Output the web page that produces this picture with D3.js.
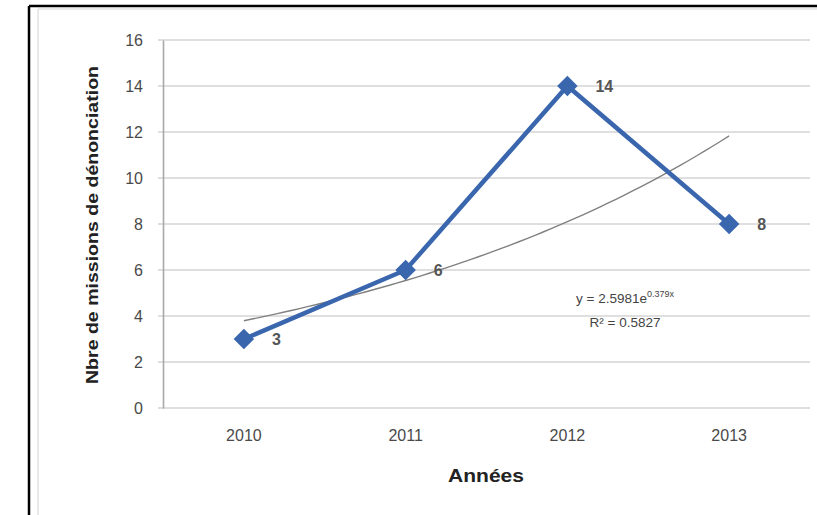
<!DOCTYPE html>
<html>
<head>
<meta charset="utf-8">
<script src="https://cdn.jsdelivr.net/npm/d3@7"></script>
<style>
  body { margin: 0; background: #fff; }
  svg { display: block; font-family: "Liberation Sans", Arial, sans-serif; }
</style>
</head>
<body>
<svg id="canvas" width="817" height="515"></svg>
<script>
let years = ['2010', '2011', '2012', '2013']
let missions = [3, 6, 14, 8]
let yTicks = [0, 2, 4, 6, 8, 10, 12, 14, 16]

let svg = d3.select('#canvas')

let plotLeft = 163, plotRight = 810, plotTop = 40, plotBottom = 408

// outer frame (top + left only, as cropped in the source)
svg.append('line').attr('x1', 29).attr('x2', 817).attr('y1', 6).attr('y2', 6)
   .attr('stroke', '#000').attr('stroke-width', 2.5)
svg.append('line').attr('x1', 29).attr('x2', 29).attr('y1', 6).attr('y2', 515)
   .attr('stroke', '#000').attr('stroke-width', 2.5)
svg.append('line').attr('x1', 38).attr('x2', 817).attr('y1', 9).attr('y2', 9)
   .attr('stroke', '#e2e2e2').attr('stroke-width', 1.5)
svg.append('line').attr('x1', 38).attr('x2', 38).attr('y1', 9).attr('y2', 515)
   .attr('stroke', '#e2e2e2').attr('stroke-width', 1.5)

let xScale = d3.scaleBand().domain(years).range([plotLeft, plotRight])
let yScale = d3.scaleLinear().domain([0, 16]).range([plotBottom, plotTop])

// gridlines
svg.append('g').selectAll('line').data(yTicks).enter().append('line')
   .attr('x1', plotLeft - 5).attr('x2', plotRight)
   .attr('y1', d => yScale(d)).attr('y2', d => yScale(d))
   .attr('stroke', '#d4d4d4').attr('stroke-width', 1.6)

// y axis
let yAxis = d3.axisLeft(yScale).tickValues(yTicks).tickSize(0).tickPadding(20)
let yG = svg.append('g').attr('transform', 'translate(' + plotLeft + ',0)').call(yAxis)
yG.select('.domain').attr('stroke', '#a8a8a8').attr('stroke-width', 1.6)
yG.selectAll('text').attr('fill', '#4a4a4a').style('font-size', '16px')

// x axis labels
let xAxis = d3.axisBottom(xScale).tickSize(0).tickPadding(22)
let xG = svg.append('g').attr('transform', 'translate(0,' + plotBottom + ')').call(xAxis)
xG.select('.domain').remove()
xG.selectAll('text').attr('fill', '#4a4a4a').style('font-size', '16px')

// axis titles
svg.append('text').text('Années')
   .attr('x', 486).attr('y', 482).attr('text-anchor', 'middle')
   .attr('textLength', 76).attr('lengthAdjust', 'spacingAndGlyphs')
   .attr('font-weight', 'bold').attr('font-size', 18).attr('fill', '#222')
svg.append('text').text('Nbre de missions de dénonciation')
   .attr('transform', 'translate(98,225) rotate(-90)').attr('text-anchor', 'middle')
   .attr('textLength', 318).attr('lengthAdjust', 'spacingAndGlyphs')
   .attr('font-weight', 'bold').attr('font-size', 17).attr('fill', '#222')

// exponential trendline fitted to the data
let xs = missions.map((v, i) => i + 1)
let lns = missions.map(v => Math.log(v))
let mx = d3.mean(xs), ml = d3.mean(lns)
let b = d3.sum(xs, (x, i) => (x - mx) * (lns[i] - ml)) / d3.sum(xs, x => (x - mx) * (x - mx))
let a = Math.exp(ml - b * mx)
let rss = d3.sum(xs, (x, i) => Math.pow(lns[i] - (Math.log(a) + b * x), 2))
let tss = d3.sum(lns, l => (l - ml) * (l - ml))
let r2 = 1 - rss / tss

let xPos = (t) => xScale(years[0]) + xScale.bandwidth() / 2 + (t - 1) * xScale.step()
let trend = d3.range(1, 4.01, 0.05).map(t => [xPos(t), yScale(a * Math.exp(b * t))])
svg.append('path').datum(trend)
   .attr('d', d3.line())
   .attr('fill', 'none').attr('stroke', '#808080').attr('stroke-width', 1.4)

// data line
let pts = years.map((y, i) => [xScale(y) + xScale.bandwidth() / 2, yScale(missions[i])])
svg.append('path').datum(pts)
   .attr('d', d3.line())
   .attr('fill', 'none').attr('stroke', '#3a66ae').attr('stroke-width', 4.5)

svg.append('g').selectAll('path').data(pts).enter().append('path')
   .attr('d', d3.symbol().type(d3.symbolSquare).size(210))
   .attr('transform', d => 'translate(' + d[0] + ',' + d[1] + ') rotate(45)')
   .attr('fill', '#3a66ae')

// data labels
svg.append('g').selectAll('text').data(pts).enter().append('text')
   .text((d, i) => missions[i])
   .attr('x', d => d[0] + 28).attr('y', d => d[1] + 6)
   .attr('font-size', 16).attr('font-weight', 'bold').attr('fill', '#555')

// equation
let eq = svg.append('text').attr('x', 625).attr('y', 303).attr('text-anchor', 'middle')
   .attr('font-size', 13.5).attr('fill', '#444')
eq.append('tspan').text('y = ' + a.toFixed(4) + 'e')
eq.append('tspan').text(b.toFixed(3) + 'x').attr('font-size', 9).attr('dy', -6)
svg.append('text').text('R² = ' + r2.toFixed(4))
   .attr('x', 625).attr('y', 327).attr('text-anchor', 'middle')
   .attr('font-size', 13.5).attr('fill', '#444')
</script>
</body>
</html>
